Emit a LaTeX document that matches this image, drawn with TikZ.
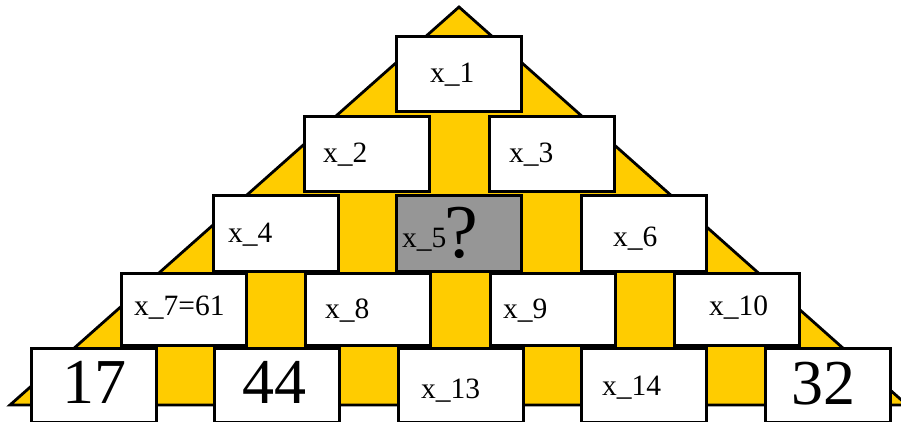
\documentclass[tikz,border=0pt]{standalone}
\usepackage{fontspec}
\setmainfont{Liberation Serif}
\definecolor{pyr}{RGB}{255,204,0}
\definecolor{qgray}{RGB}{150,150,150}
\begin{document}
\begin{tikzpicture}[x=1pt,y=-1pt,
  box/.style={draw=black, line width=2.8pt, fill=white, minimum width=125pt,
    anchor=north west, inner sep=0pt},
  lbl/.style={anchor=base west, inner sep=0pt, font=\fontsize{29.5}{29.5}\selectfont},
  big/.style={anchor=base, inner sep=0pt, font=\fontsize{64}{64}\selectfont},
  qm/.style={anchor=base west, inner sep=0pt, font=\fontsize{76}{76}\selectfont}]
\useasboundingbox (0,0) rectangle (901,422);
\clip (0,0) rectangle (901,422);
\coordinate (apex) at (459,7);
\coordinate (bl) at (10,405);
\coordinate (br) at (907,405);
\draw[fill=pyr, line width=2.8pt, line join=miter] (apex) -- (br) -- (bl) -- cycle;
% row 1
\node[box, minimum height=75pt] (b1) at (395,35) {};
% row 2
\node[box, minimum height=75pt] (b2) at (303,115) {};
\node[box, minimum height=75pt] (b3) at (488,115) {};
% row 3
\node[box, minimum height=76pt] (b4) at (212,194) {};
\node[box, minimum height=76pt, fill=qgray] (b5) at (395,194) {};
\node[box, minimum height=76pt] (b6) at (580,194) {};
% row 4
\node[box, minimum height=72pt] (b7) at (120,272) {};
\node[box, minimum height=72pt] (b8) at (304,272) {};
\node[box, minimum height=72pt] (b9) at (489,272) {};
\node[box, minimum height=72pt] (b10) at (673,272) {};
% row 5
\node[box, minimum height=74pt] (b11) at (30,347) {};
\node[box, minimum height=74pt] (b12) at (213,347) {};
\node[box, minimum height=74pt] (b13) at (397,347) {};
\node[box, minimum height=74pt] (b14) at (580,347) {};
\node[box, minimum height=74pt] (b15) at (764,347) {};
% labels
\node[lbl] (t1) at (430,83) {x\_1};
\node[lbl] (t2) at (323,163) {x\_2};
\node[lbl] (t3) at (509,163) {x\_3};
\node[lbl] (t4) at (228,242) {x\_4};
\node[lbl] (t5) at (402,247) {x\_5};
\node[qm] (q5) at (444,257) {?};
\node[lbl] (t6) at (613,246) {x\_6};
\node[lbl] (t7) at (134,315) {x\_7=61};
\node[lbl] (t8) at (325,318) {x\_8};
\node[lbl] (t9) at (503,318) {x\_9};
\node[lbl] (t10) at (709,315) {x\_10};
\node[big] (t11) at (94,403) {17};
\node[big] (t12) at (274,403) {44};
\node[lbl] (t13) at (421,398) {x\_13};
\node[lbl] (t14) at (602,395) {x\_14};
\node[big] (t15) at (823,404) {32};
\end{tikzpicture}
\end{document}
